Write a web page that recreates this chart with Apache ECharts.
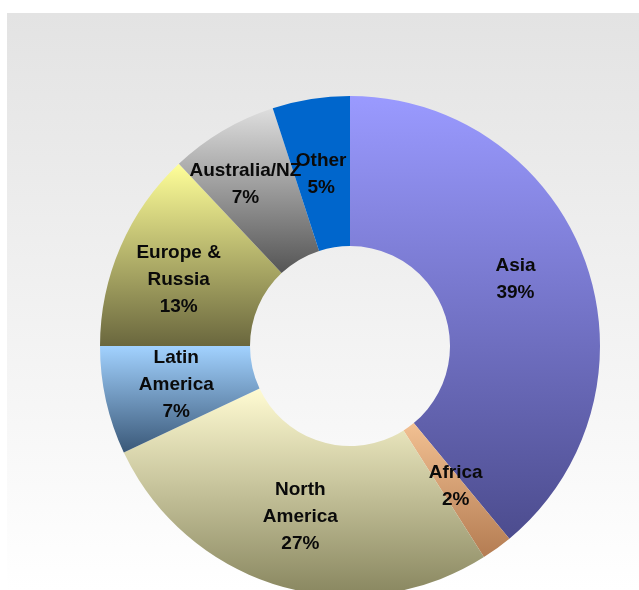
<!DOCTYPE html>
<html>
<head>
<meta charset="utf-8">
<script src="https://cdn.jsdelivr.net/npm/echarts@6/dist/echarts.min.js"></script>
<style>
  html, body { margin: 0; padding: 0; background: #ffffff; }
  #chart { width: 639px; height: 590px; }
</style>
</head>
<body>
<div id="chart"></div>
<script>
// Regions, clockwise from 12 o'clock
const regions = ['Asia', 'Africa', 'North\nAmerica', 'Latin\nAmerica', 'Europe &\nRussia', 'Australia/NZ', 'Other'];
// Share of total, percent
const shares = [39, 2, 27, 7, 13, 7, 5];

// Top/bottom colours of each slice's vertical shading
const topColors    = ['#9a9aff', '#f2c092', '#fffbd2', '#a2d2ff', '#ffff99', '#dedede', '#0066cc'];
const bottomColors = ['#4c4c8e', '#b47c52', '#88865f', '#3a5878', '#6a673e', '#555555', '#0066cc'];

// Small nudges of individual labels
const labelNudge = {
  'Australia/NZ': [-14, -9],
  'Europe &\nRussia': [-8, 4],
  'Asia': [-2, -6],
  'Other': [-1, 4],
  'Africa': [1, -4]
};

const chart = echarts.init(document.getElementById('chart'), null, { renderer: 'canvas' });

const data = regions.map((name, i) => {
  const item = {
    name: name,
    value: shares[i],
    itemStyle: {
      color: new echarts.graphic.LinearGradient(0, 0, 0, 1, [
        { offset: 0, color: topColors[i] },
        { offset: 1, color: bottomColors[i] }
      ])
    }
  };
  if (labelNudge[name]) item.label = { offset: labelNudge[name] };
  return item;
});

chart.setOption({
  animation: false,
  backgroundColor: '#ffffff',
  graphic: [{
    type: 'rect',
    z: -10,
    shape: { x: 7, y: 13, width: 632, height: 577 },
    style: {
      fill: new echarts.graphic.LinearGradient(0, 0, 0, 1, [
        { offset: 0, color: '#e3e3e3' },
        { offset: 1, color: '#ffffff' }
      ])
    }
  }],
  series: [{
    type: 'pie',
    center: [350, 346],
    radius: [100, 250],
    startAngle: 90,
    clockwise: true,
    avoidLabelOverlap: false,
    minShowLabelAngle: 0,
    labelLayout: { hideOverlap: false },
    label: {
      show: true,
      position: 'inside',
      formatter: p => p.name + '\n' + p.value + '%',
      color: '#0a0a0a',
      fontFamily: '"Liberation Sans", Arial, sans-serif',
      fontWeight: 'bold',
      fontSize: 19,
      lineHeight: 27,
      align: 'center',
      overflow: 'none'
    },
    labelLine: { show: false },
    emphasis: { disabled: true },
    data: data
  }]
});
</script>
</body>
</html>
